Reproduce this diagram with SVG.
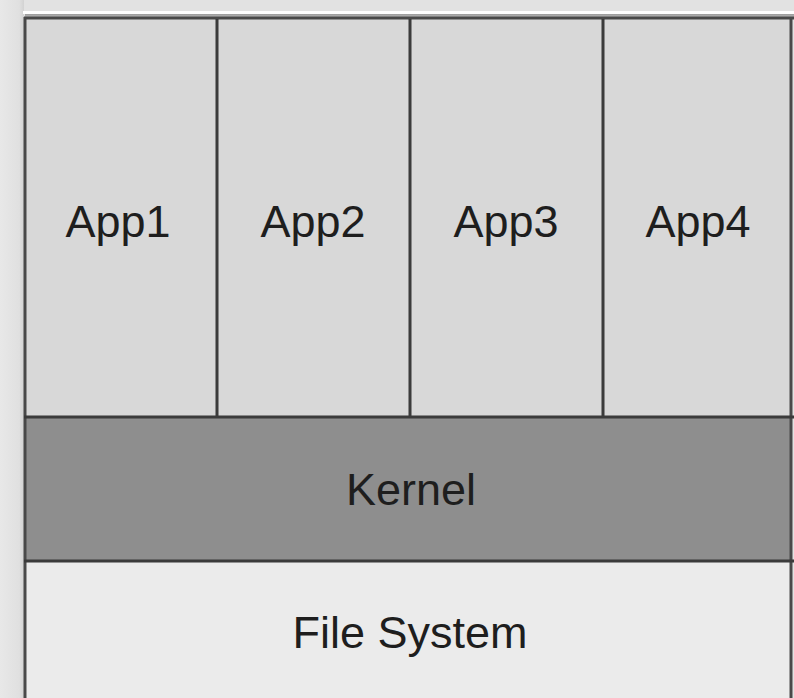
<svg xmlns="http://www.w3.org/2000/svg" width="794" height="698" viewBox="0 0 794 698">
  <defs>
    <linearGradient id="leftShade" x1="0" y1="0" x2="1" y2="0">
      <stop offset="0" stop-color="#e8e8e8"/>
      <stop offset="0.8" stop-color="#e0e0e0"/>
      <stop offset="1" stop-color="#d2d2d2"/>
    </linearGradient>
    <linearGradient id="topShade" x1="0" y1="0" x2="0" y2="1">
      <stop offset="0" stop-color="#9a9a9a"/>
      <stop offset="1" stop-color="#cfcfcf"/>
    </linearGradient>
    <filter id="soft" x="-2%" y="-2%" width="104%" height="104%">
      <feGaussianBlur stdDeviation="0.7"/>
    </filter>
  </defs>
  <style>
    .label { font-family: "Liberation Sans", Arial, sans-serif; font-size: 45px; fill: #1e1e1e; text-anchor: middle; }
    .rule { stroke: #3a3a3a; stroke-width: 3; fill: none; }
    .edge { stroke: #4a4a4a; stroke-width: 3; fill: none; }
  </style>

  <!-- page backdrop with drop shadow -->
  <rect x="0" y="0" width="794" height="698" fill="#e2e2e2"/>
  <rect x="0" y="0" width="24" height="698" fill="url(#leftShade)"/>
  <rect x="23" y="11" width="771" height="3" fill="#ffffff"/>
  <rect x="25" y="14" width="769" height="5" fill="url(#topShade)"/>

  <!-- application row -->
  <g id="app1">
    <rect x="26" y="19" width="191" height="398" fill="#d8d8d8"/>
    <text class="label" x="118" y="237">App1</text>
  </g>
  <g id="app2">
    <rect x="217" y="19" width="193" height="398" fill="#d8d8d8"/>
    <text class="label" x="313" y="237">App2</text>
  </g>
  <g id="app3">
    <rect x="410" y="19" width="193" height="398" fill="#d8d8d8"/>
    <text class="label" x="506" y="237">App3</text>
  </g>
  <g id="app4">
    <rect x="603" y="19" width="188" height="398" fill="#d8d8d8"/>
    <text class="label" x="698" y="237">App4</text>
  </g>

  <!-- kernel layer -->
  <g id="kernel">
    <rect x="26" y="417" width="765" height="144" fill="#8e8e8e"/>
    <text class="label" x="411" y="505">Kernel</text>
  </g>

  <!-- file system layer -->
  <g id="filesystem">
    <rect x="26" y="561" width="765" height="137" fill="#ebebeb"/>
    <text class="label" x="410" y="648">File System</text>
  </g>

  <!-- frame and dividing rules -->
  <g id="connectors" filter="url(#soft)">
    <line class="edge" x1="25" y1="17" x2="25" y2="698"/>
    <line class="edge" x1="791" y1="17" x2="791" y2="698" stroke="#6a6a6a"/>
    <line class="edge" x1="24" y1="18" x2="794" y2="18" stroke="#8a8a8a"/>
    <line class="rule" x1="217" y1="19" x2="217" y2="417"/>
    <line class="rule" x1="410" y1="19" x2="410" y2="417" stroke="#555"/>
    <line class="rule" x1="603" y1="19" x2="603" y2="417"/>
    <line class="rule" x1="24" y1="417" x2="794" y2="417"/>
    <line class="rule" x1="24" y1="561" x2="794" y2="561"/>
  </g>
</svg>
